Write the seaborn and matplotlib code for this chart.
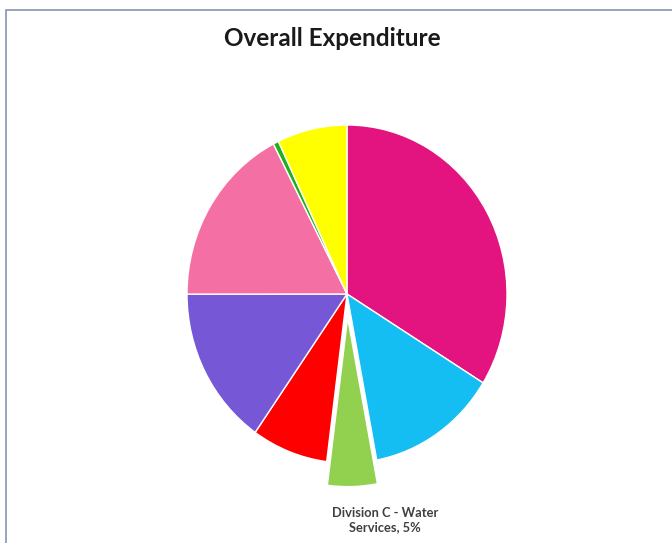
import matplotlib
matplotlib.use("Agg")
import matplotlib.pyplot as plt
import matplotlib.patches as mpatches
import seaborn as sns

categories = ["Division A", "Division B", "Division C - Water Services", "Division D",
              "Division E", "Division F", "Division G", "Division H"]
values = [33.8, 13.2, 5.0, 7.7, 15.25, 17.4, 0.55, 7.05]
colors = ["#E3137F", "#14BDF2", "#92D050", "#FF0000", "#7658D6", "#F46FA3", "#1DB11D", "#FFFF00"]
explode = [0, 0, 0.14, 0, 0, 0, 0, 0]
label_text = "Division C - Water\nServices, 5%"

sns.set_theme(style="white")
plt.rcParams['font.family'] = ['Lato', 'DejaVu Sans']

W, H = 672, 543
fig = plt.figure(figsize=(W / 100, H / 100), dpi=100)
fig.patch.set_facecolor("white")

# frame
fig.add_artist(mpatches.Rectangle((5.5 / W, -0.1), 1.2, 1.1 - 10.5 / H,
                                  transform=fig.transFigure, fill=False,
                                  edgecolor="#8496B0", linewidth=1.2))

cx, cy, rx, ry = 347, 294, 160, 169
ax = fig.add_axes([(cx - rx) / W, (H - cy - ry) / H, 2 * rx / W, 2 * ry / H])
wedges, _ = ax.pie(values, colors=colors, explode=explode, startangle=90,
                   counterclock=False, radius=1,
                   wedgeprops=dict(edgecolor="white", linewidth=1.0))
for w in wedges:
    w.set_clip_on(False)
ax.set_aspect('auto')
ax.set_xlim(-1, 1)
ax.set_ylim(-1, 1)
ax.axis('off')

fig.text(332 / W, 1 - 38 / H, "Overall Expenditure", ha="center", va="center",
         fontsize=17.5, fontweight="bold", color="#1a1a1a")
fig.text(385 / W, 1 - 520 / H, label_text, ha="center", va="center",
         fontsize=9.3, fontweight="bold", color="#404040", linespacing=1.25)

fig.savefig("out.png", dpi=100)
